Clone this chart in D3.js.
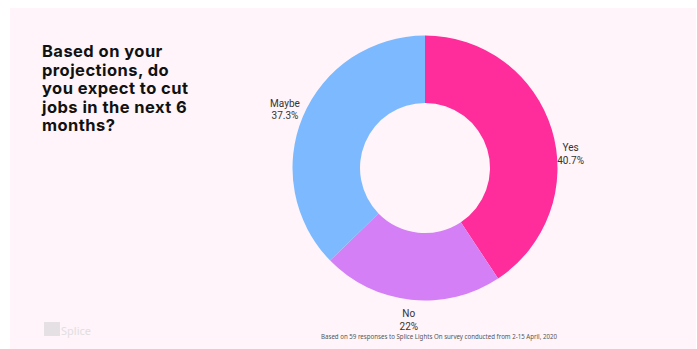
<!DOCTYPE html>
<html><head><meta charset="utf-8">
<script src="https://cdn.jsdelivr.net/npm/d3@7/dist/d3.min.js"></script>
<style>html,body{margin:0;padding:0;background:#fff;}svg{display:block;}</style>
</head><body>
<svg id="chart" width="697" height="349"></svg>
<script>
const categories = ["Yes", "No", "Maybe"];
const values = [40.7, 22, 37.3];
const valueLabels = ["40.7%", "22%", "37.3%"];
const colors = ["#ff2d9c", "#d47ff5", "#7db9ff"];
const titleLines = ["Based on your", "projections, do", "you expect to cut", "jobs in the next 6", "months?"];
const footnote = "Based on 59 responses to Splice Lights On survey conducted from 2-15 April, 2020";

const svg = d3.select("#chart");
svg.append("rect").attr("x", 10).attr("y", 8).attr("width", 686).attr("height", 341).attr("fill", "#fef4f9");

// title
const t = svg.append("text").attr("font-family", "Inter, 'Noto Sans', sans-serif")
  .attr("font-weight", 700).attr("font-size", 16.5).attr("letter-spacing", 0.45).attr("fill", "#111");
titleLines.forEach((l, i) => t.append("tspan").attr("x", 42).attr("y", 57 + i * 18.5).text(l));

const cx = 425, cy = 168, R = 132.5, r = 65;
const g = svg.append("g").attr("transform", `translate(${cx},${cy})`);
const pie = d3.pie().sort(null).value(d => d.v);
const data = pie(categories.map((c, i) => ({c, v: values[i], lab: valueLabels[i], col: colors[i]})));
const arc = d3.arc().innerRadius(r).outerRadius(R);
g.selectAll("path").data(data).join("path").attr("d", arc).attr("fill", d => d.data.col);

const labelArc = d3.arc().innerRadius(152).outerRadius(152);
const lg = g.selectAll("g.lab").data(data).join("g").attr("class", "lab")
  .attr("transform", d => {
    const [x, y] = labelArc.centroid(d);
    const nudge = d.data.c === "Yes" ? 29 : 0;
    return `translate(${x},${y + nudge})`;
  });
lg.append("text").attr("text-anchor", "middle").attr("y", -2)
  .attr("font-family", "Roboto, 'Liberation Sans', sans-serif").attr("font-size", 10).attr("fill", "#333")
  .text(d => d.data.c);
lg.append("text").attr("text-anchor", "middle").attr("y", 10.5)
  .attr("font-family", "Roboto, 'Liberation Sans', sans-serif").attr("font-size", 10).attr("fill", "#333")
  .text(d => d.data.lab);

// footnote
svg.append("text").attr("x", 439).attr("y", 338.5).attr("text-anchor", "middle")
  .attr("font-family", "'Noto Sans', sans-serif").attr("font-size", 7).attr("fill", "#555")
  .attr("textLength", 236).attr("lengthAdjust", "spacingAndGlyphs").text(footnote);

// logo
svg.append("rect").attr("x", 44).attr("y", 322).attr("width", 16).attr("height", 14).attr("fill", "#e4e0e3");
svg.append("text").attr("x", 61).attr("y", 335).attr("font-family", "'Noto Sans', sans-serif")
  .attr("font-size", 11).attr("fill", "#e2dee1").text("Splice");
</script>
</body></html>
